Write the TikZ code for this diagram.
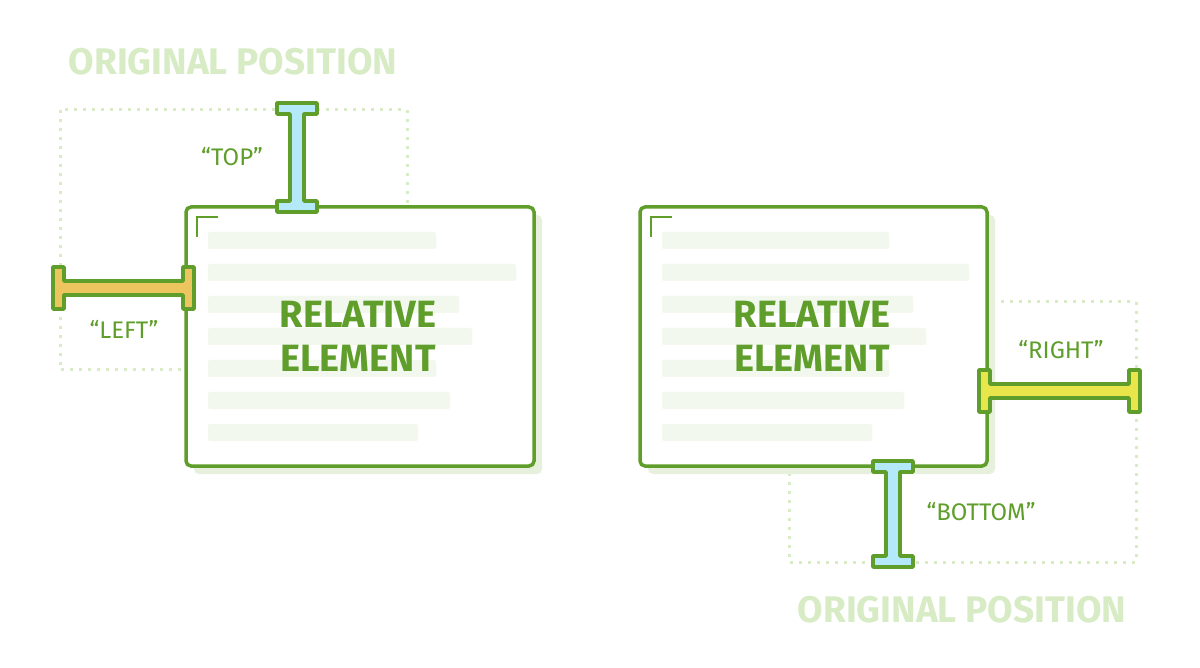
\documentclass[tikz,border=0pt]{standalone}
\usepackage{fontspec}
\setmainfont{Fira Sans}
\definecolor{leaf}{HTML}{5F9E2B}
\definecolor{pale}{HTML}{D7EBC4}
\definecolor{barfill}{HTML}{F3F8EE}
\definecolor{dropfill}{HTML}{E6F0DC}
\definecolor{skyfill}{HTML}{B3E9F9}
\definecolor{ochre}{HTML}{EDC55F}
\definecolor{lemon}{HTML}{E8E64A}
\tikzset{
  panel/.style={draw=leaf,line width=3.5pt,rounded corners=5pt,fill=white},
  ghost/.style={draw=pale,line width=3pt,dash pattern=on 3pt off 6pt},
  textbar/.style={fill=barfill,rounded corners=2pt},
  dropbox/.style={fill=dropfill,rounded corners=5pt},
  beam/.style={draw=leaf,line width=3.5pt,line join=round},
  big/.style={text=leaf,font=\fontsize{38}{44}\selectfont\bfseries,align=center},
  cue/.style={text=leaf,font=\fontsize{24}{28}\selectfont},
  heading/.style={text=pale,font=\fontsize{37}{42}\selectfont\bfseries}
}
% vertical I-beam: centre x, top y, bottom y, fill
\newcommand{\beamv}[4]{%
  \draw[beam,fill=#4] (#1-20,#2) -- (#1+20,#2) -- (#1+20,#2+11) -- (#1+7,#2+11)
    -- (#1+7,#3-11) -- (#1+20,#3-11) -- (#1+20,#3) -- (#1-20,#3) -- (#1-20,#3-11)
    -- (#1-7,#3-11) -- (#1-7,#2+11) -- (#1-20,#2+11) -- cycle;}
% horizontal I-beam: centre y, left x, right x, fill
\newcommand{\beamh}[4]{%
  \draw[beam,fill=#4] (#2,#1-21) -- (#2,#1+21) -- (#2+11,#1+21) -- (#2+11,#1+7)
    -- (#3-11,#1+7) -- (#3-11,#1+21) -- (#3,#1+21) -- (#3,#1-21) -- (#3-11,#1-21)
    -- (#3-11,#1-7) -- (#2+11,#1-7) -- (#2+11,#1-21) -- cycle;}
\begin{document}
\begin{tikzpicture}[x=1pt,y=-1pt]
  \useasboundingbox (0,0) rectangle (1200,668);
  % left element
  \draw[ghost] (60,110) rectangle (407,370);
  \fill[dropbox] (194,215) rectangle (542,474);
  \draw[panel] (186,207) rectangle (534,466);
  \draw[leaf,line width=1.5pt] (197,237) -- (197,217) -- (218,217);
  \foreach \r/\e in {0/436,1/516,2/459,3/472,4/436,5/450,6/418}
    \fill[textbar] (208,232+32*\r) rectangle (\e,249+32*\r);
  \node[big] (relA) at (358,336) {RELATIVE\\ELEMENT};
  \beamv{297}{103}{212}{skyfill}
  \beamh{288}{53}{194}{ochre}
  \node[cue] (top) at (232,157) {“TOP”};
  \node[cue] (left) at (124,329) {“LEFT”};
  \node[heading] (origA) at (233,62) {ORIGINAL POSITION};
  % right element
  \draw[ghost] (789,302) rectangle (1136,562);
  \fill[dropbox] (648,215) rectangle (995,474);
  \draw[panel] (640,207) rectangle (987,466);
  \draw[leaf,line width=1.5pt] (651,237) -- (651,217) -- (672,217);
  \foreach \r/\e in {0/889,1/969,2/913,3/926,4/889,5/904,6/872}
    \fill[textbar] (662,232+32*\r) rectangle (\e,249+32*\r);
  \node[big] (relB) at (812,336) {RELATIVE\\ELEMENT};
  \beamh{391}{979}{1140}{lemon}
  \beamv{893}{461}{567}{skyfill}
  \node[cue] (right) at (1061,350) {“RIGHT”};
  \node[cue] (bottom) at (981,512) {“BOTTOM”};
  \node[heading] (origB) at (962,610) {ORIGINAL POSITION};
\end{tikzpicture}
\end{document}
